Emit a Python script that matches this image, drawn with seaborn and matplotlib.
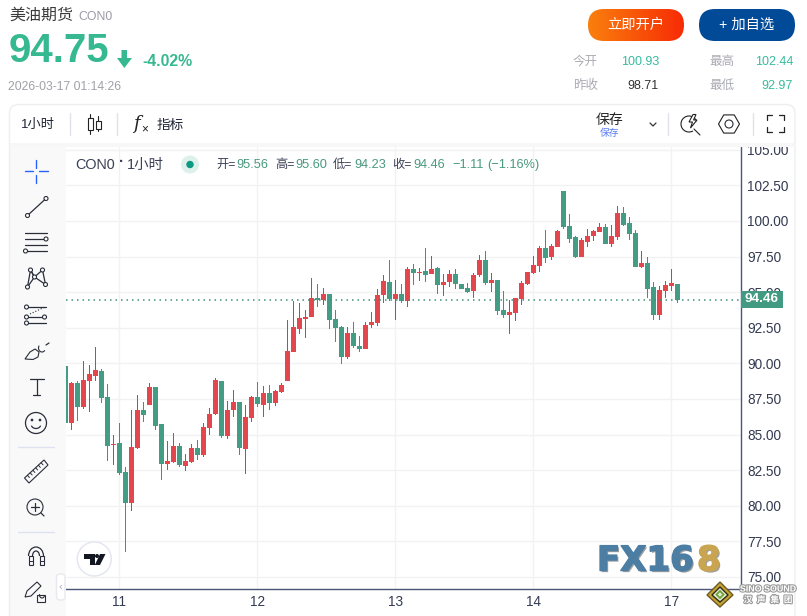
import numpy as np
import pandas as pd
import seaborn as sns
import matplotlib
matplotlib.use("Agg")
import matplotlib.pyplot as plt
from matplotlib.patches import FancyBboxPatch, Rectangle, Circle, Polygon, RegularPolygon, Arc
import matplotlib.patheffects as pe

opens = [89.81,85.83,88.62,86.93,88.76,89.11,89.46,87.63,84.26,84.40,82.37,80.19,84.05,86.72,87.07,88.34,85.74,82.93,83.07,84.19,
         82.79,83.07,84.05,83.56,85.46,86.44,88.76,84.89,86.72,87.28,83.98,86.16,87.63,87.07,87.91,87.21,87.98,88.76,90.79,92.41,
         93.11,93.25,94.59,94.45,94.87,93.11,92.55,90.44,92.13,91.22,91.00,92.69,92.83,94.80,95.71,94.52,94.87,94.38,96.62,96.34,
         96.48,96.27,96.69,95.50,95.71,96.27,95.57,95.29,95.08,96.20,97.26,95.64,95.85,93.74,93.39,93.53,94.51,95.57,96.34,96.83,
         98.10,97.46,98.17,102.10,99.64,98.87,97.46,98.52,98.94,99.22,99.57,98.38,98.87,100.55,99.85,99.15,96.76,97.04,95.36,93.39,
         95.08,95.43,95.56]
closes = [85.83,88.59,86.93,88.83,89.25,89.53,87.56,84.19,84.33,82.30,80.19,84.12,86.72,86.37,88.34,85.60,82.93,83.14,84.19,82.86,
          83.14,84.05,83.56,85.53,86.44,88.83,84.89,86.72,87.28,84.05,86.23,87.63,87.14,87.91,87.21,88.06,88.48,90.87,92.55,93.18,
          93.25,94.59,94.45,94.87,93.04,92.48,90.44,92.13,91.22,91.00,92.69,92.90,94.80,95.78,94.52,94.87,94.38,96.62,96.34,96.41,
          96.20,96.62,95.50,95.71,96.27,95.57,95.22,95.01,96.20,97.26,95.64,95.85,93.67,93.39,93.60,94.58,95.64,96.41,96.90,98.10,
          97.39,98.24,99.29,99.57,98.73,97.46,98.66,98.94,99.29,99.57,98.38,98.94,100.55,99.71,99.08,96.76,97.04,95.22,93.39,95.15,
          95.50,95.64,94.46]
highs = [89.81,88.71,88.76,90.16,89.88,91.15,89.60,88.55,84.96,85.81,82.72,86.72,87.78,87.28,88.62,88.34,85.74,84.54,85.11,84.40,
         83.63,84.33,84.61,85.81,86.86,88.97,88.76,87.35,88.13,87.28,87.07,87.70,88.69,88.41,88.48,88.13,88.62,93.04,94.38,94.24,
         93.74,95.99,95.57,95.29,94.87,93.74,92.62,92.55,92.90,91.92,92.90,93.60,95.22,96.20,97.26,95.85,95.57,96.76,96.97,96.69,
         98.10,97.54,96.76,96.27,96.55,96.62,95.57,95.64,96.34,97.61,97.89,96.34,95.85,95.08,94.44,94.58,95.78,96.41,97.53,98.24,
         99.36,98.38,99.36,102.10,100.48,98.94,98.80,99.43,99.36,99.85,99.78,99.71,101.05,100.98,100.27,99.36,97.89,97.46,95.71,95.43,
         95.78,96.62,95.60]
lows = [85.83,85.32,85.95,86.79,86.58,88.76,87.21,83.14,82.86,82.15,76.74,79.63,83.98,85.88,87.07,85.32,81.80,82.51,83.00,82.72,
        82.44,83.00,83.21,83.42,84.96,86.37,84.75,84.68,86.23,83.56,82.22,85.88,86.93,86.23,86.72,87.00,87.91,88.76,90.79,92.06,
        91.78,93.25,93.95,94.10,92.41,91.50,89.95,90.30,91.08,90.79,91.00,92.48,92.62,94.24,94.38,93.04,94.24,93.95,95.50,95.78,
        95.71,96.27,94.87,94.73,95.36,95.22,95.22,94.94,94.59,96.06,95.50,95.01,93.39,93.18,92.06,92.97,94.09,95.50,96.27,96.41,
        97.04,97.25,98.17,99.43,98.45,97.39,97.46,98.17,98.59,99.22,98.38,98.17,98.66,99.64,98.66,96.76,96.69,94.58,93.04,93.04,
        94.58,95.08,94.23]
day_ticks = [9, 32, 55, 78, 101]
day_labels = ["11", "12", "13", "14", "17"]
price_ticks = [75, 77.5, 80, 82.5, 85, 87.5, 90, 92.5, 95, 97.5, 100, 102.5, 105]
last_price = 94.46

UP, DOWN = "#E2474E", "#459C84"
UP_W, DOWN_W = "#A94E5C", "#4F8C72"
GRID = "#F1F2F4"
AXIS = "#4A5578"
TXT = "#333A52"
HGREEN = "#36B890"

sns.set_theme(style="white")
FONT = ["Liberation Sans", "Noto Sans CJK SC", "DejaVu Sans"]
plt.rcParams["font.family"] = FONT

W, H = 807, 616
fig = plt.figure(figsize=(W / 100, H / 100), dpi=100, facecolor="white")

# price chart: pixel box x 66-740, y 147-588
x0, x1, y0, y1 = 66, 740.5, 147, 588.8
ax = fig.add_axes([x0 / W, 1 - y1 / H, (x1 - x0) / W, (y1 - y0) / H])
df = pd.DataFrame({"i": np.arange(len(opens)), "o": opens, "c": closes, "h": highs, "l": lows})
df["up"] = df.c >= df.o
df["top"] = df[["o", "c"]].max(axis=1)
df["bot"] = df[["o", "c"]].min(axis=1)
df["body"] = (df.top - df.bot).clip(lower=0.07)
df["wick"] = df.h - df.l
for is_up, wcol, bcol in [(True, UP_W, UP), (False, DOWN_W, DOWN)]:
    sub = df[df.up == is_up]
    sns.barplot(data=sub, x="i", y="wick", bottom=sub.l.values, native_scale=True, errorbar=None,
                color=wcol, saturation=1, width=0.2, ax=ax, linewidth=0, zorder=3)
    sns.barplot(data=sub, x="i", y="body", bottom=sub.bot.values, native_scale=True, errorbar=None,
                color=bcol, saturation=1, width=0.84, ax=ax, linewidth=0, zorder=4)

ax.axhline(last_price, color="#3F8F79", lw=1.1, ls=(0, (1, 2.6)), zorder=5)
# i -> px = 65.3 + 6 i ; price -> py = 363.3 - 14.24 (p - 90)
ax.set_xlim((x0 - 65.3) / 6, (x1 - 65.3) / 6)
ax.set_ylim(90 - (y1 - 363.3) / 14.24, 90 + (363.3 - y0) / 14.24)
ax.set_xticks(day_ticks, day_labels)
ax.set_yticks(price_ticks, [f"{v:.2f}" for v in price_ticks])
ax.yaxis.tick_right()
ax.set_xlabel("")
ax.set_ylabel("")
ax.tick_params(axis="both", length=0, labelsize=9.8, labelcolor=TXT)
ax.tick_params(axis="y", pad=5)
ax.tick_params(axis="x", pad=4.5)
ax.grid(True, color=GRID, lw=1, zorder=0)
ax.set_axisbelow(True)
for s in ["left", "top"]:
    ax.spines[s].set_visible(False)
for s in ["right", "bottom"]:
    ax.spines[s].set_color(AXIS)
    ax.spines[s].set_linewidth(1.0)

# page furniture in pixel coordinates
ov = fig.add_axes([0, 0, 1, 1], facecolor="none")
ov.set_xlim(0, W)
ov.set_ylim(H, 0)
ov.axis("off")
ov.set_zorder(5)


def T(x, y, s, size=9, color=TXT, ha="left", va="center", weight="normal", **kw):
    return ov.text(x, y, s, fontsize=size, color=color, ha=ha, va=va, weight=weight, **kw)


def L(xs, ys, color="#2A2E39", lw=0.9, **kw):
    ov.plot(xs, ys, color=color, lw=lw, solid_capstyle="round", **kw)


def C(x, y, r=2.0, ec="#2A2E39", fc="white", lw=0.8, z=4):
    ov.add_patch(Circle((x, y), r, ec=ec, fc=fc, lw=lw, zorder=z))


def RR(x, y, w, h, r, fc, ec="none", lw=1, z=1):
    p = FancyBboxPatch((x + r, y + r), w - 2 * r, h - 2 * r, boxstyle=f"round,pad={r},rounding_size={r}",
                       fc=fc, ec=ec, lw=lw, zorder=z)
    ov.add_patch(p)
    return p


# panel frame
RR(9.5, 104.5, 785.5, 560, 9, "none", ec="#EDEEF1", lw=1, z=1)
ov.add_patch(Rectangle((10, 143), 56, 473, fc="#F9F9FA", ec="none", zorder=0.5))
ov.add_patch(Rectangle((10, 143), 785, 4.2, fc="#F7F7F8", ec="none", zorder=1))

# header
T(9, 15.5, "美油期货", 11.5, "#3A3A3A")
T(78, 16.5, "CON0", 8.8, "#9A9AA8")
T(9, 51.5, "94.75", 29, HGREEN, weight="bold")
ov.add_patch(Polygon([(121.5, 50), (127, 50), (127, 58), (132, 58), (124.3, 68), (117, 58), (121.5, 58)],
                     fc=HGREEN, ec="none"))
T(142, 61, "-4.02%", 11.4, HGREEN, weight="bold")
T(8.5, 86.5, "2026-03-17 01:14:26", 8.7, "#A0A0A8")

# buttons
pb = RR(588, 9, 96, 32, 16, "none")
grad = np.linspace(0, 1, 256).reshape(1, -1, 1)
rgb = (1 - grad) * np.array([0.98, 0.50, 0.05]) + grad * np.array([0.97, 0.17, 0.02])
im = ov.imshow(rgb, extent=(588, 684, 41, 9), aspect="auto", zorder=2)
im.set_clip_path(pb)
ov.set_xlim(0, W)
ov.set_ylim(H, 0)
T(636, 25, "立即开户", 10.3, "white", ha="center", zorder=3)
RR(699, 9, 96, 32, 16, "#014A97")
T(747, 25, "+ 加自选", 10.3, "white", ha="center", zorder=3)

# stats
STAT = "#36BBA0"
T(573, 62, "今开", 9, "#ABABB5")
T(659, 62, "100.93", 9, STAT, ha="right")
T(709, 62, "最高", 9, "#ABABB5")
T(793, 62, "102.44", 9, STAT, ha="right")
T(573, 86, "昨收", 9, "#ABABB5")
T(659, 86, "98.71", 9, "#333333", ha="right")
T(709, 86, "最低", 9, "#ABABB5")
T(793, 86, "92.97", 9, STAT, ha="right")

# toolbar
T(21, 125, "1小时", 9.5, "#1F2435")
for xs in (69.5, 116.5, 667.5, 752.5):
    L([xs, xs], [113, 135], "#E2E3E8", 1)
ov.add_patch(Rectangle((87.5, 118), 5, 12, fc="none", ec="#222", lw=0.8))
L([90, 90], [114, 118], "#222", 0.8)
L([90, 90], [130, 134], "#222", 0.8)
ov.add_patch(Rectangle((95.5, 120.5), 5, 8, fc="none", ec="#222", lw=0.8))
L([98, 98], [116, 120.5], "#222", 0.8)
L([98, 98], [128.5, 131], "#222", 0.8)
T(133, 124, "f", 13, "#222", style="italic", family="DejaVu Serif")
T(141, 129, "×", 8.5, "#222")
T(157, 125, "指标", 9.8, "#1F2435")
T(610, 120, "保存", 10, "#222", ha="center")
T(610, 133, "保存", 7, "#5B7DF5", ha="center")
L([650, 653, 656], [123, 126, 123], "#333", 0.9)
# bolt-magnifier
ov.add_patch(Arc((689, 124), 16, 16, theta1=60, theta2=340, ec="#222", lw=0.8))
L([694, 700], [129, 135], "#222", 0.8)
ov.add_patch(Polygon([(693, 114.5), (689, 122), (692.5, 122), (690.5, 128), (697, 120), (693.5, 120), (696, 114.5)],
                     fc="white", ec="#222", lw=0.8, zorder=3))
ov.add_patch(RegularPolygon((729, 124), 6, radius=10.5, orientation=np.pi / 6, fc="none", ec="#222", lw=0.8))
C(729, 124, 4, fc="none")
for cx, cy, dx, dy in [(767, 115, 1, 1), (784, 115, -1, 1), (767, 132, 1, -1), (784, 132, -1, -1)]:
    L([cx + dx * 5, cx, cx], [cy, cy, cy + dy * 5], "#222", 0.9)

# legend row
T(75, 165, "CON0", 10.4, "#3A4056")
T(118.5, 162, "·", 11, "#3A4056", weight="bold")
T(127, 165, "1小时", 10.4, "#3A4056")
ov.add_patch(Circle((190, 164.5), 9, fc="#DDF0EC", ec="none", zorder=3))
ov.add_patch(Circle((190, 164.5), 3.7, fc="#0B9981", ec="none", zorder=4))
G2 = "#47997F"
for x, s in [(216, "开="), (275, "高="), (333, "低="), (392, "收=")]:
    T(x, 165, s, 8.8, "#3A4056")
for x, s in [(236, "95.56"), (295, "95.60"), (354, "94.23"), (413, "94.46"), (452, "−1.11"), (487, "(−1.16%)")]:
    T(x, 165, s, 9.2, G2)

# price tag
ov.add_patch(Rectangle((740.5, 291), 42.5, 16.5, fc="#439A83", ec="none", zorder=3))
T(761.7, 299.5, "94.46", 9.7, "white", ha="center", weight="bold", zorder=4)

# left tool column
BL = "#2962FF"
for a, b in [(25, 33), (39, 48)]:
    L([a, b], [171, 171], BL, 1.0)
for a, b in [(160, 168), (175, 183)]:
    L([36, 36], [a, b], BL, 1.0)
L([27.5, 46], [215.5, 198.5])
C(27.5, 215.5)
C(46, 198.5)
for yy in (233, 239, 245, 251):
    L([25, 47], [yy, yy])
C(46, 239)
C(25.5, 251)
pts = [(27.5, 287), (30.5, 270), (34.5, 277), (42.5, 270), (45.5, 284.5)]
L([p[0] for p in pts], [p[1] for p in pts])
L([27.5, 34.5, 45.5], [287, 277, 284.5])
L([30.5, 34.5], [270, 277])
for p in pts:
    C(*p, r=2)
for yy in (307, 323):
    L([26.5, 46], [yy, yy])
L([26.5, 46], [317, 317])
L([30, 45], [314, 307], ls=":", lw=0.8)
for a, b in [(26.5, 307), (26.5, 317), (26.5, 323), (44.5, 317)]:
    C(a, b)
ov.add_patch(Polygon([(25, 359), (30, 352), (35, 349), (39, 352), (38, 357), (33, 359.5)], fc="none", ec="#2A2E39", lw=0.8))
ov.add_patch(Arc((42, 348), 7, 8, theta1=40, theta2=220, ec="#2A2E39", lw=0.8))
L([46, 49], [345, 343])
L([29.5, 44], [378.5, 378.5])
L([36.7, 36.7], [378.5, 395])
L([33, 40], [395, 395])
C(36, 423, 10.5, fc="none", lw=0.9)
C(32, 420, 0.8, fc="#2A2E39")
C(40, 420, 0.8, fc="#2A2E39")
ov.add_patch(Arc((36, 424), 10, 9, theta1=20, theta2=160, ec="#2A2E39", lw=0.9))
L([18, 54], [447, 447], "#DFE2EE", 1)
ov.add_patch(Polygon([(24.5, 478), (44, 460), (48, 465), (29, 483)], fc="none", ec="#2A2E39", lw=0.8))
for t in np.linspace(0.15, 0.85, 6):
    a = (24.5 + t * 19.5, 478 - t * 18)
    L([a[0], a[0] + 2], [a[1], a[1] + 2.2], lw=0.7)
C(35, 507, 8, fc="none")
L([31, 39], [507, 507])
L([35, 35], [503, 511])
L([41, 44], [513, 516])
L([18, 54], [532, 532], "#DFE2EE", 1)
ov.add_patch(Arc((36, 556), 15, 18, theta1=180, theta2=360, ec="#2A2E39", lw=0.9))
ov.add_patch(Arc((36, 556), 7, 10, theta1=180, theta2=360, ec="#2A2E39", lw=0.9))
for a, b in [(28.5, 32.5), (39.5, 43.5)]:
    ov.add_patch(Rectangle((a, 556), b - a, 9, fc="none", ec="#2A2E39", lw=0.8))
    L([a, b], [561, 561], lw=0.7)
ov.add_patch(Polygon([(25, 597), (27, 591), (37, 582), (41, 586), (31, 596)], fc="none", ec="#2A2E39", lw=0.8))
ov.add_patch(Rectangle((37, 595), 8, 6.5, fc="none", ec="#2A2E39", lw=0.8))
ov.add_patch(Arc((42, 595), 5, 6, theta1=0, theta2=200, ec="#2A2E39", lw=0.8))

# collapse handle
RR(56.5, 574, 8.5, 26, 3.5, "white", ec="#E8E9EF", lw=1, z=2)
T(60.5, 587, "‹", 8, "#A9ADBB", ha="center", zorder=3)

# TradingView badge
ov.add_patch(Circle((94.3, 559), 17, fc="white", ec="#E3E5EF", lw=1, zorder=3))
TV = "#131722"
ov.add_patch(Polygon([(84, 554), (94.5, 554), (94.5, 565), (90, 565), (90, 558.5), (84, 558.5)], fc=TV, ec="none", zorder=4))
ov.add_patch(Circle((97, 556), 2, fc=TV, ec="none", zorder=4))
ov.add_patch(Polygon([(100, 554), (105.5, 554), (100, 565), (94.8, 565)], fc=TV, ec="none", zorder=4))

# FX168 mark
def fx_fx(col):
    return [pe.withSimplePatchShadow(offset=(1.2, -1.2), shadow_rgbFace=(0.25, 0.25, 0.25), alpha=0.5),
            pe.withStroke(linewidth=1.1, foreground=col)]


T(597, 561, "FX16", 24.5, "#4C7DA3", weight="bold", family="DejaVu Sans", zorder=6, path_effects=fx_fx("#4C7DA3"))
T(697, 561, "8", 24.5, "#C9A451", weight="bold", family="DejaVu Sans", zorder=6, path_effects=fx_fx("#C9A451"))

# Sino Sound mark
ov.add_patch(Polygon([(720, 582), (733, 595), (720, 607), (707, 595)], fc="#C4A22F", ec="#6B5A2A", lw=1, zorder=6))
ov.add_patch(Polygon([(720, 587), (728, 595), (720, 602), (712, 595)], fc="#E9EDD2", ec="#2F2B1C", lw=1, zorder=7))
ov.add_patch(RegularPolygon((720, 594.5), 4, radius=3.5, fc="none", ec="#6BA43A", lw=1.3, zorder=8))
sw = [pe.withStroke(linewidth=1.6, foreground="#9A9A9A")]
T(768, 589, "SINO SOUND", 6.4, "white", ha="center", weight="bold", zorder=8, path_effects=sw)
T(768, 600, "汉  声  集  团", 6.2, "white", ha="center", weight="bold", zorder=8, path_effects=sw)

fig.savefig("out.png", dpi=100)
